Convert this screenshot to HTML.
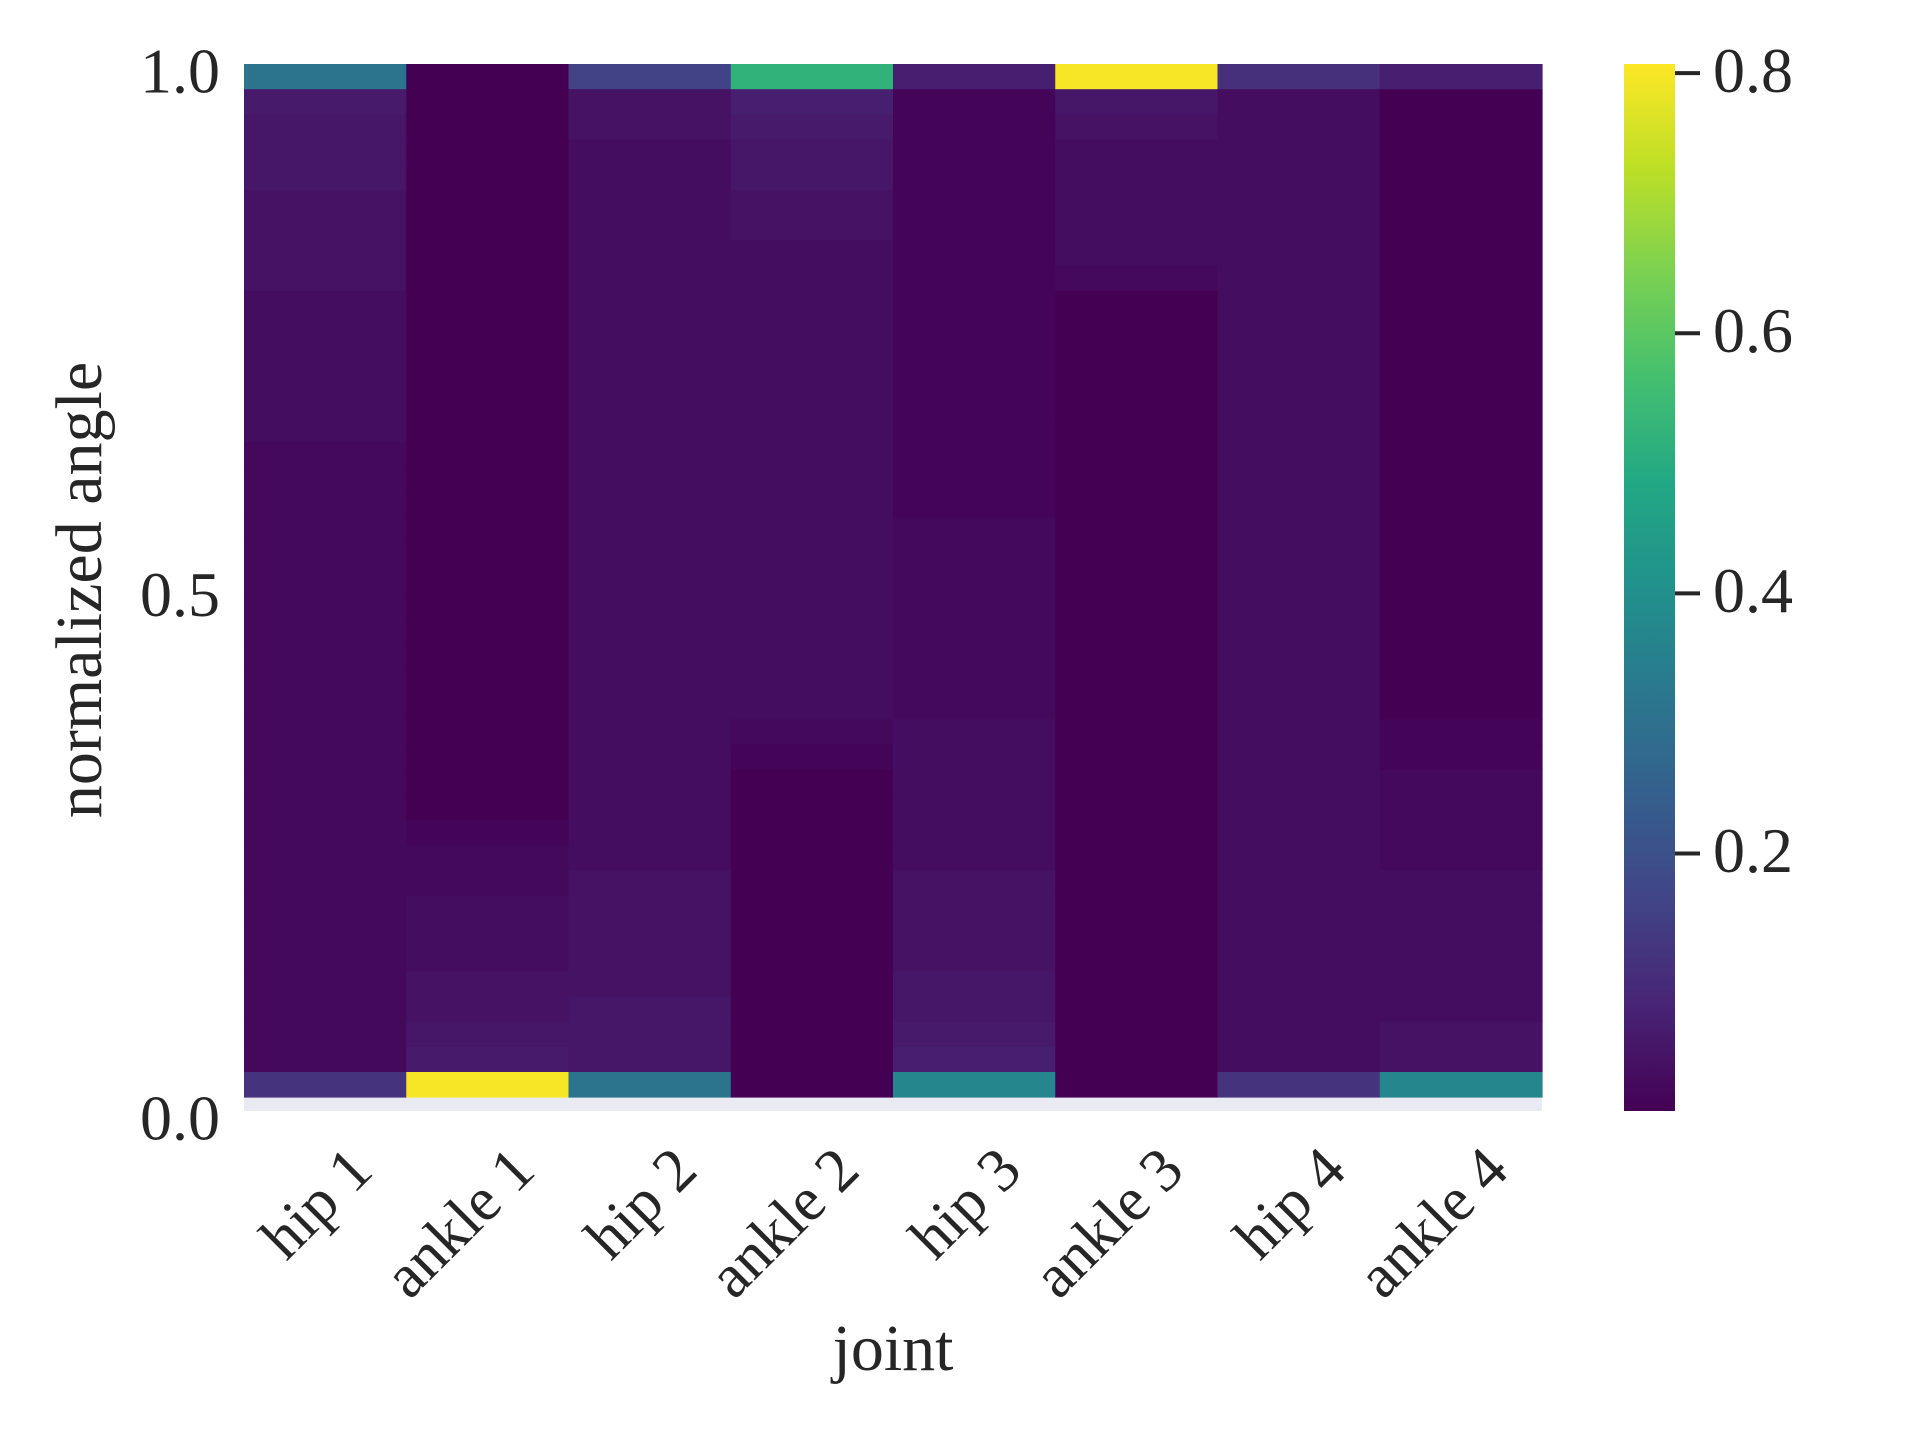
<!DOCTYPE html>
<html><head><meta charset="utf-8"><style>
html,body{margin:0;padding:0;background:#fff;}
svg{display:block;font-family:"Liberation Serif","DejaVu Serif",serif;}
</style></head><body>
<svg id="chart" width="1920" height="1440" viewBox="0 0 1920 1440">
<defs><linearGradient id="cbgrad" x1="0" y1="1" x2="0" y2="0"></linearGradient></defs>
<rect x="244" y="64" width="1298" height="1047" fill="#eaeaf2"/>
<g id="cells"></g>
<g id="yticks"></g>
<g id="xticks"></g>
<text x="86" y="590" font-size="66" fill="#262626" text-anchor="middle" dominant-baseline="middle" transform="rotate(-90 86 590)">normalized angle</text>
<text x="893" y="1355" font-size="66" fill="#262626" text-anchor="middle" dominant-baseline="middle">joint</text>
<rect x="1624" y="64" width="51" height="1047" fill="url(#cbgrad)"/>
<g id="cbticks"></g>
</svg>
<script>
// joints (columns)
const joints = ["hip 1","ankle 1","hip 2","ankle 2","hip 3","ankle 3","hip 4","ankle 4"];
// values per column, listed top row (1.0) to bottom row (0.0), 41 rows
const hip1   = [0.31,0.06,0.05,0.05,0.05,0.04,0.04,0.04,0.04,0.03, 0.03,0.03,0.03,0.03,0.03,0.02,0.02,0.02,0.02,0.02, 0.02,0.02,0.02,0.02,0.02,0.02,0.02,0.02,0.02,0.02, 0.02,0.02,0.02,0.02,0.02,0.02,0.02,0.02,0.02,0.02, 0.12];
const ankle1 = [0.00,0.00,0.00,0.00,0.00,0.00,0.00,0.00,0.00,0.00, 0.00,0.00,0.00,0.00,0.00,0.00,0.00,0.00,0.00,0.00, 0.00,0.00,0.00,0.00,0.00,0.00,0.00,0.00,0.00,0.00, 0.01,0.02,0.02,0.03,0.03,0.03,0.04,0.04,0.05,0.06, 0.80];
const hip2   = [0.16,0.04,0.04,0.03,0.03,0.03,0.03,0.03,0.03,0.03, 0.03,0.03,0.03,0.03,0.03,0.03,0.03,0.03,0.03,0.03, 0.03,0.03,0.03,0.03,0.03,0.03,0.03,0.03,0.03,0.03, 0.03,0.03,0.04,0.04,0.04,0.04,0.04,0.05,0.05,0.05, 0.31];
const ankle2 = [0.52,0.07,0.06,0.05,0.05,0.04,0.04,0.03,0.03,0.03, 0.03,0.03,0.03,0.03,0.03,0.03,0.03,0.03,0.03,0.03, 0.03,0.03,0.03,0.03,0.03,0.03,0.02,0.01,0.00,0.00, 0.00,0.00,0.00,0.00,0.00,0.00,0.00,0.00,0.00,0.00, 0.00];
const hip3   = [0.07,0.01,0.01,0.01,0.01,0.01,0.01,0.01,0.01,0.01, 0.01,0.01,0.01,0.01,0.01,0.01,0.01,0.01,0.02,0.02, 0.02,0.02,0.02,0.02,0.02,0.02,0.03,0.03,0.03,0.03, 0.03,0.03,0.04,0.04,0.04,0.04,0.05,0.05,0.06,0.07, 0.37];
const ankle3 = [0.80,0.05,0.04,0.03,0.03,0.03,0.03,0.03,0.02,0.00, 0.00,0.00,0.00,0.00,0.00,0.00,0.00,0.00,0.00,0.00, 0.00,0.00,0.00,0.00,0.00,0.00,0.00,0.00,0.00,0.00, 0.00,0.00,0.00,0.00,0.00,0.00,0.00,0.00,0.00,0.00, 0.00];
const hip4   = [0.11,0.03,0.03,0.03,0.03,0.03,0.03,0.03,0.03,0.03, 0.03,0.03,0.03,0.03,0.03,0.03,0.03,0.03,0.03,0.03, 0.03,0.03,0.03,0.03,0.03,0.03,0.03,0.03,0.03,0.03, 0.03,0.03,0.03,0.03,0.03,0.03,0.03,0.03,0.03,0.03, 0.12];
const ankle4 = [0.07,0.00,0.00,0.00,0.00,0.00,0.00,0.00,0.00,0.00, 0.00,0.00,0.00,0.00,0.00,0.00,0.00,0.00,0.00,0.00, 0.00,0.00,0.00,0.00,0.00,0.00,0.01,0.01,0.02,0.02, 0.02,0.02,0.03,0.03,0.03,0.03,0.03,0.03,0.04,0.04, 0.37];
const yTicks = [0.0, 0.5, 1.0];
const yTickLabels = ["0.0","0.5","1.0"];
const cbTicks = [0.2, 0.4, 0.6, 0.8];
const cbTickLabels = ["0.2","0.4","0.6","0.8"];
const vmin = 0.002, vmax = 0.807;

const columns = [hip1, ankle1, hip2, ankle2, hip3, ankle3, hip4, ankle4];
const NS = "http://www.w3.org/2000/svg";
const L = 244, R = 1542, T = 64, B = 1111;
const rowH = 25.2;
const colW = (R - L) / joints.length;
function xCol(i){ return L + i*colW; }
function yRow(r){ return T + r*rowH; }
function yVal(v){ return B - v*(B - T); }
function yCb(v){ return B - (v - vmin)/(vmax - vmin)*(B - T); }
const vir = [[0,"#440154"],[0.1,"#482475"],[0.2,"#414487"],[0.3,"#355f8d"],[0.4,"#2a788e"],[0.5,"#21918c"],[0.6,"#22a884"],[0.7,"#44bf70"],[0.8,"#7ad151"],[0.9,"#bddf26"],[1,"#fde725"]];
function hx(h){return [1,3,5].map(i=>parseInt(h.substr(i,2),16));}
function viridis(v){
  let t = Math.max(0, Math.min(1, (v - vmin)/(vmax - vmin)));
  for(let i=0;i<vir.length-1;i++){
    if(t<=vir[i+1][0]){
      const f=(t-vir[i][0])/(vir[i+1][0]-vir[i][0]);
      const a=hx(vir[i][1]), b=hx(vir[i+1][1]);
      return "rgb("+a.map((c,k)=>Math.round(c+(b[k]-c)*f)).join(",")+")";
    }
  }
  return vir[vir.length-1][1];
}
const cells = document.getElementById("cells");
columns.forEach((col, i) => {
  col.forEach((v, r) => {
    const rc = document.createElementNS(NS, "rect");
    rc.setAttribute("x", xCol(i));
    rc.setAttribute("y", yRow(r));
    rc.setAttribute("width", colW + 0.6);
    rc.setAttribute("height", rowH + 0.4);
    rc.setAttribute("fill", viridis(v));
    
    
    cells.appendChild(rc);
  });
});
const yt = document.getElementById("yticks");
yTicks.forEach((v, i) => {
  const t = document.createElementNS(NS, "text");
  t.setAttribute("x", 220);
  t.setAttribute("y", yVal(v) + 14);
  t.setAttribute("font-size", "64");
  t.setAttribute("fill", "#262626");
  t.setAttribute("text-anchor", "end");
  t.setAttribute("dominant-baseline", "middle");
  t.textContent = yTickLabels[i];
  
  
  yt.appendChild(t);
});
const xt = document.getElementById("xticks");
joints.forEach((j, i) => {
  const cx = xCol(i) + colW/2 + 40, cy = 1163;
  const t = document.createElementNS(NS, "text");
  t.setAttribute("x", cx);
  t.setAttribute("y", cy);
  t.setAttribute("font-size", "62");
  t.setAttribute("fill", "#262626");
  t.setAttribute("text-anchor", "end");
  t.setAttribute("dominant-baseline", "middle");
  t.setAttribute("transform", "rotate(-45 " + cx + " " + cy + ")");
  t.textContent = j;
  
  
  xt.appendChild(t);
});
const grad = document.getElementById("cbgrad");
vir.forEach(s => {
  const st = document.createElementNS(NS, "stop");
  st.setAttribute("offset", s[0]);
  st.setAttribute("stop-color", s[1]);
  grad.appendChild(st);
});
const cbt = document.getElementById("cbticks");
cbTicks.forEach((v, i) => {
  const y = yCb(v);
  const ln = document.createElementNS(NS, "line");
  ln.setAttribute("x1", 1675); ln.setAttribute("x2", 1700);
  ln.setAttribute("y1", y); ln.setAttribute("y2", y);
  ln.setAttribute("stroke", "#262626"); ln.setAttribute("stroke-width", "4");
  
  
  cbt.appendChild(ln);
  const t = document.createElementNS(NS, "text");
  t.setAttribute("x", 1713);
  t.setAttribute("y", y + 4);
  t.setAttribute("font-size", "64");
  t.setAttribute("fill", "#262626");
  t.setAttribute("dominant-baseline", "middle");
  t.textContent = cbTickLabels[i];
  
  
  cbt.appendChild(t);
});
</script>
</body></html>
